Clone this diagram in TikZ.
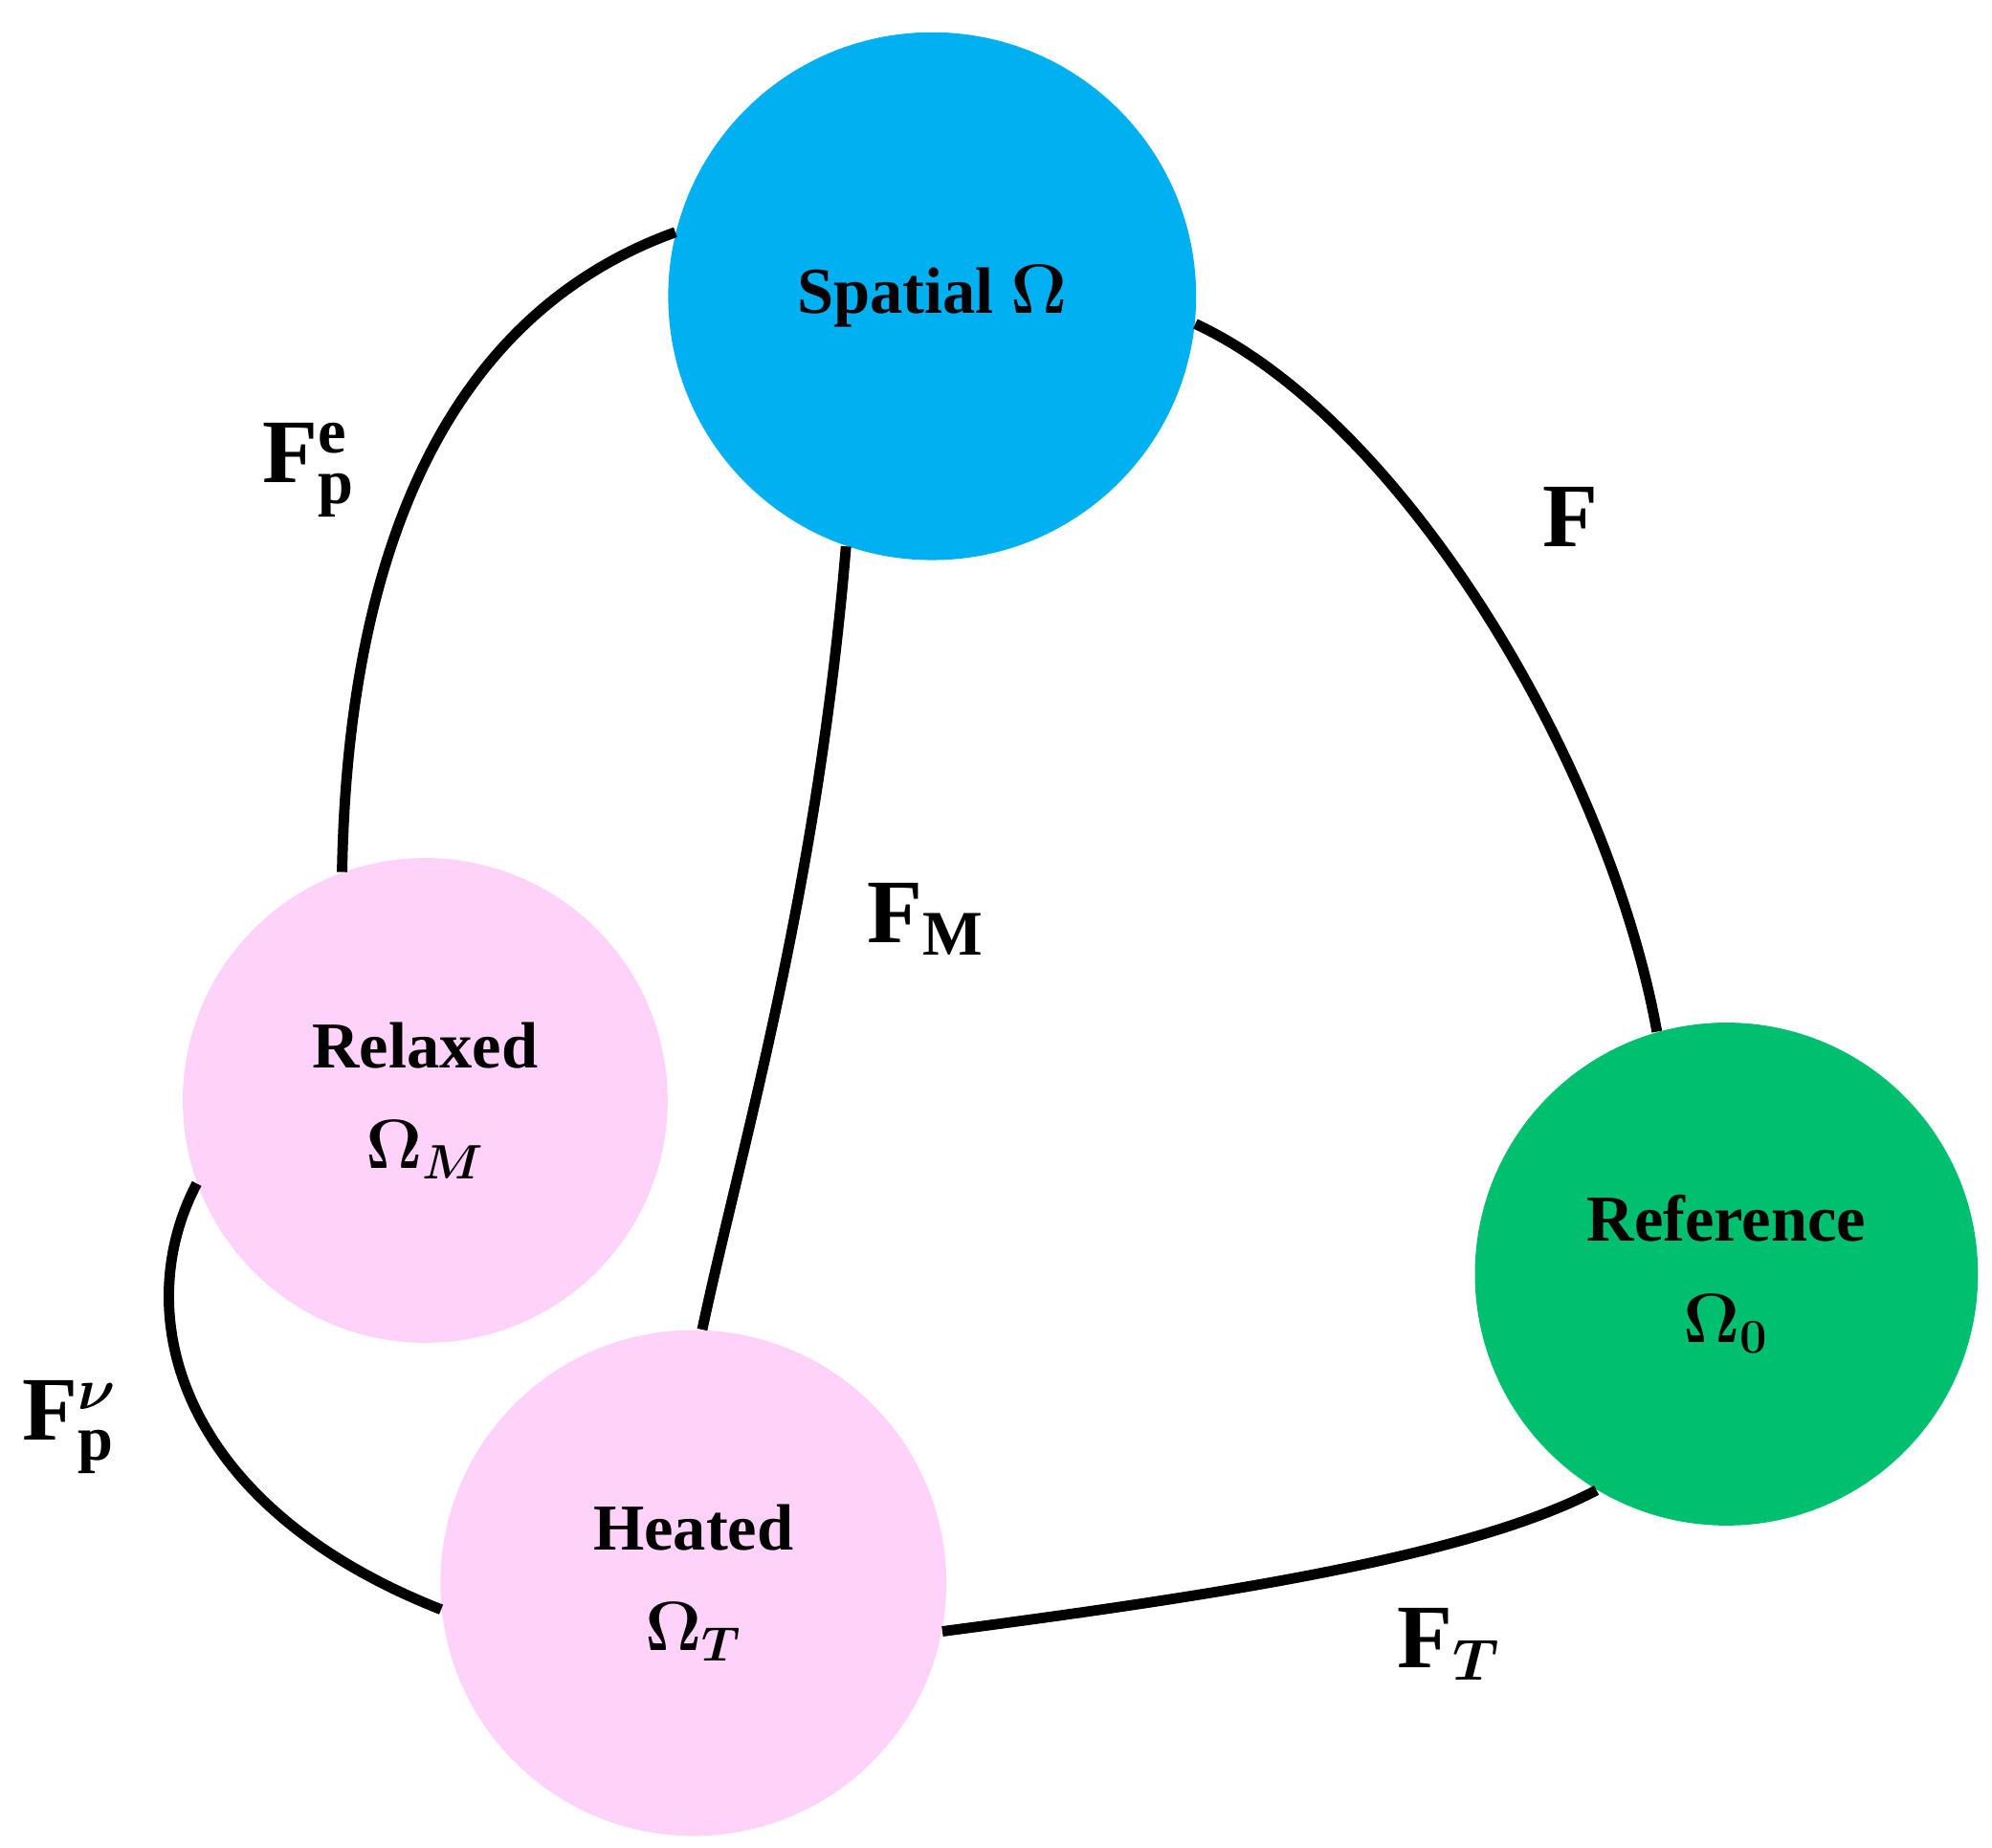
\documentclass[tikz,border=0pt]{standalone}
\usepackage{amsmath}
\usepackage{bm}
\usepackage{fontspec}
\setmainfont{Liberation Serif}
\usepackage{tikz}
\definecolor{spatialblue}{RGB}{0,176,240}
\definecolor{refgreen}{RGB}{0,192,112}
\definecolor{statepink}{RGB}{255,210,250}

\begin{document}
\begin{tikzpicture}[x=0.01335cm, y=-0.01335cm]
      \useasboundingbox (0,0) rectangle (1560,1447);
      \tikzstyle {state} = [shape=circle, inner sep=0pt, align=center, font=\bfseries\fontsize{19.5}{26}\selectfont];
      \tikzstyle {map} = [line width=3.1pt];
      \tikzstyle {maplabel} = [font=\bfseries\fontsize{27}{30}\selectfont];
      \node (sp) [state, fill=spatialblue, minimum size=5.52cm] at (730,232) {Spatial $\bm{\Omega}$};
      \node (rl) [state, fill=statepink, minimum size=5.07cm] at (333,862) {Relaxed\\[4pt] $\bm{\Omega_M}$};
      \node (ht) [state, fill=statepink, minimum size=5.29cm] at (543,1240) {Heated\\[4pt] $\bm{\Omega_T}$};
      \node (rf) [state, fill=refgreen, minimum size=5.26cm] at (1352,998) {Reference\\[4pt] $\bm{\Omega_0}$};
      \draw [map] (sp.166) .. controls (340,250) and (272,450) .. (rl.110);
      \draw [map] (sp.-6) .. controls (1100,330) and (1260,600) .. (rf.106);
      \draw [map] (sp.-109) .. controls (640,700) and (580,900) .. (ht.88);
      \draw [map] (rl.200) .. controls (100,1030) and (140,1180) .. (ht.186);
      \draw [map] (ht.-11) .. controls (950,1250) and (1150,1220) .. (rf.239);
      \node (lpe) [maplabel] at (242,368) {$\mathbf{F}_{\mathbf{p}}^{\mathbf{e}}$};
      \node (lf) [maplabel] at (1230,405) {$\mathbf{F}$};
      \node (lm) [maplabel] at (725,720) {$\mathbf{F}_{\mathbf{M}}$};
      \node (lpv) [maplabel] at (55,1118) {$\mathbf{F}_{\mathbf{p}}^{\bm{\nu}}$};
      \node (lt) [maplabel] at (1135,1288) {$\mathbf{F}_{\bm{T}}$};
\end{tikzpicture}
\end{document}
